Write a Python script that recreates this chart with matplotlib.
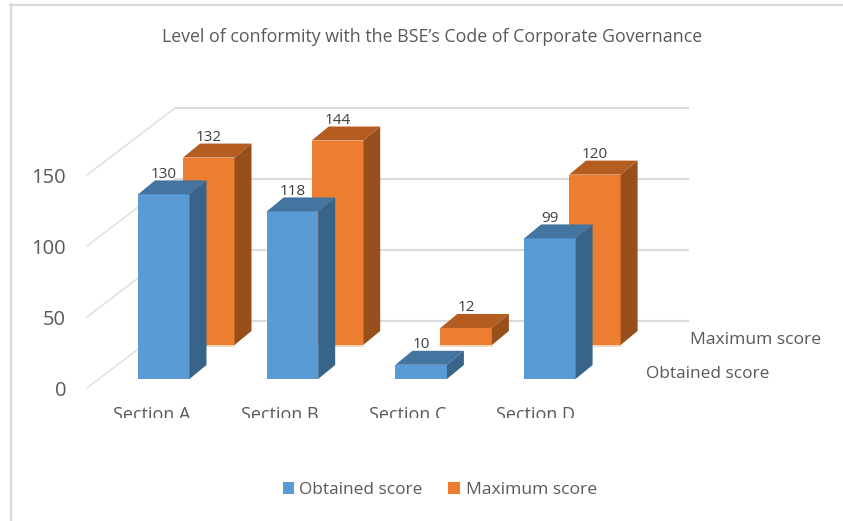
import matplotlib
matplotlib.use("Agg")
import matplotlib.pyplot as plt
from matplotlib.patches import Polygon, Rectangle

sections = ["Section A", "Section B", "Section C", "Section D"]
obtained = [130, 118, 10, 99]
maximum = [132, 144, 12, 120]
ticks = [0, 50, 100, 150]

plt.rcParams['font.family'] = ['Open Sans', 'DejaVu Sans']

W, H = 843, 521
fig = plt.figure(figsize=(W / 100, H / 100), dpi=100)
# x in pixels, y in score units
PX = 1.42
ax = fig.add_axes([0, 0, 1, 1])
ax.set_xlim(0, W)
ax.set_ylim((379 - H) / PX, 379 / PX)
ax.axis("off")

BAR_W = 51.5
STEP = 128.7
LEFT = 138
ROW_DX = 45
ROW_DY = 34 / PX
DEPTH_X = 17
DEPTH_Y = 14 / PX
WALL_X = 175
WALL_END = 688
WALL_Y = 58 / PX
SIDE_X = 87
SIDE_Y = -9 / PX
GRID = "#dcdcdc"
TXT = "#595959"


def pt(px, py):
    return (px, (379 - py) / PX)


def draw_bar(x, base, val, front, top, side, z):
    ax.add_patch(Rectangle((x, base), BAR_W, val, fc=front, ec="none", zorder=z))
    ax.add_patch(Polygon([(x, base + val), (x + BAR_W, base + val),
                          (x + BAR_W + DEPTH_X, base + val + DEPTH_Y),
                          (x + DEPTH_X, base + val + DEPTH_Y)],
                         fc=top, ec="none", zorder=z))
    ax.add_patch(Polygon([(x + BAR_W, base), (x + BAR_W + DEPTH_X, base + DEPTH_Y),
                          (x + BAR_W + DEPTH_X, base + val + DEPTH_Y),
                          (x + BAR_W, base + val)],
                         fc=side, ec="none", zorder=z))
    ax.text(x + BAR_W / 2, base + val + DEPTH_Y - 0.8, str(val), ha="center", va="bottom",
            fontsize=11, color="#404040", zorder=z + 0.5)


# walls
for t in ticks:
    ax.plot([WALL_X, WALL_END], [WALL_Y + t, WALL_Y + t], color=GRID, lw=1.5, zorder=1)
    ax.plot([SIDE_X, WALL_X], [SIDE_Y + t, WALL_Y + t], color="#e2e2e2", lw=1.2, zorder=1)
    ax.text(66, SIDE_Y + t - 2, str(t), ha="right", va="center", fontsize=14.5, color=TXT)

# back row first so the front row covers it
for i, v in enumerate(maximum):
    x = LEFT + i * STEP + ROW_DX
    draw_bar(x, ROW_DY, v, "#ed7d31", "#b55c20", "#97501c", 2 + i * 0.01)
    ax.plot([x, x + BAR_W], [ROW_DY - 0.5, ROW_DY - 0.5], color="#f8cfb0", lw=1.2, zorder=1.5)
for i, v in enumerate(obtained):
    draw_bar(LEFT + i * STEP, 0, v, "#5b9bd5", "#4475a1", "#386489", 3 + i * 0.01)

# category labels, cut off at the bottom like the source image
for i, s in enumerate(sections):
    ax.text(152 + i * 128, pt(0, 415.5)[1], s, ha="center", va="center",
            fontsize=13, color=TXT, zorder=4)
ax.add_patch(Rectangle(pt(20, 440), 700, 22 / PX, fc="white", ec="none", zorder=5))

# series names on the depth axis
ax.text(690, pt(0, 340)[1], "Maximum score", ha="left", va="center", fontsize=12.6, color=TXT)
ax.text(646, pt(0, 373.5)[1], "Obtained score", ha="left", va="center", fontsize=12.4, color=TXT)

ax.text(432, pt(0, 37.5)[1], "Level of conformity with the BSE\u2019s Code of Corporate Governance",
        ha="center", va="center", fontsize=12.8, color=TXT)

# legend
ax.add_patch(Rectangle(pt(283, 494), 11, 12 / PX, fc="#5b9bd5", ec="none"))
ax.add_patch(Rectangle(pt(448, 494), 12, 12 / PX, fc="#ed7d31", ec="none"))
ax.text(299, pt(0, 489.5)[1], "Obtained score", ha="left", va="center", fontsize=12.4, color=TXT)
ax.text(466, pt(0, 489.5)[1], "Maximum score", ha="left", va="center", fontsize=12.6, color=TXT)

# chart frame
ax.plot([11, 11], [pt(0, 4)[1], pt(0, H)[1]], color="#d9d9d9", lw=1.6, zorder=6)
ax.plot([10, W], [pt(0, 5)[1], pt(0, 5)[1]], color="#d9d9d9", lw=1.6, zorder=6)

fig.savefig("out.png", dpi=100)
